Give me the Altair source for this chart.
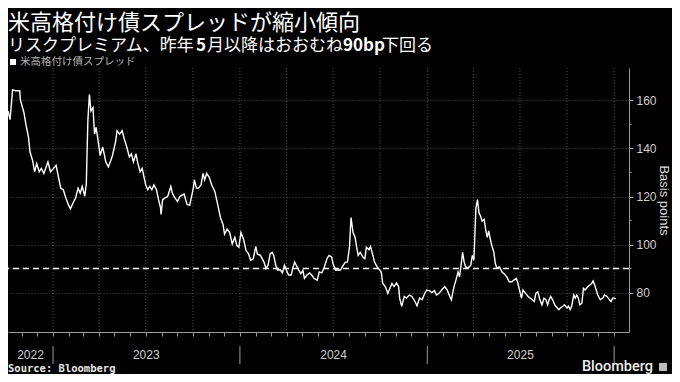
import altair as alt
import pandas as pd

# ---------------- data ----------------
START_DATE = "2022-10-05"
# day offsets from START_DATE of the sampled points
day_offsets = [0,4,9,15,23,24,31,35,40,43,48,52,56,61,65,70,78,83,89,94,
               99,103,108,113,118,122,127,132,137,141,145,150,153,156,159,162,166,169,172,175,
               180,185,189,191,196,201,204,210,213,218,223,227,232,237,241,245,250,253,258,262,
               269,273,277,281,285,290,294,298,299,302,307,312,318,321,326,331,336,344,347,350,
               355,362,364,368,372,377,381,384,388,393,398,404,411,415,420,423,428,433,438,443,
               447,451,455,460,465,470,474,479,484,487,493,500,504,508,512,516,519,523,527,532,
               536,540,544,548,553,557,560,563,568,572,576,579,584,589,593,598,604,608,613,618,
               623,627,632,635,640,644,649,655,659,663,667,670,674,678,681,684,688,693,697,700,
               705,708,712,716,721,724,729,732,737,742,746,750,754,759,763,765,769,774,778,784,
               789,795,799,804,809,814,818,823,828,833,837,842,847,853,858,863,866,869,872,875,
               879,882,885,888,891,894,898,901,904,907,910,914,917,920,923,926,930,933,936,939,
               942,945,949,952,955,960,965,969,974,979,984,988,993,996,999,1003,1006,1011,1016,1020,
               1024,1028,1031,1035,1039,1043,1047,1051,1054,1057,1060,1064,1068,1073,1076,1079,1084,1087,1092,1095,
               1098,1101,1105,1108,1111,1114,1117,1121,1124,1127,1130,1133,1136,1140,1143,1146,1149,1152,1157,1162,
               1165,1170,1175,1178,1181,1184,1187]
spread_bp = [155.6,152,164.5,164,164,160.4,155,150,144.7,138.5,
             135,130.3,133.7,130.3,131.7,129.6,134.4,130.3,131.7,133,
             127.6,123.5,122.8,119.4,116.6,114.9,117.3,119.4,123.5,121.4,
             124.2,120.1,125.5,151.5,162.5,155.6,157,146,148.8,144.7,
             137.1,140.6,136.5,134.4,132.4,135.1,137.1,142.6,147.4,146,
             147.4,144,140.6,136.5,137.8,134.4,137.8,134.4,130.3,131.7,
             124.8,122.8,124.2,122.8,124.8,122.8,118.7,115.3,112.5,118.7,
             119.4,120.1,124.2,121.4,119.4,118,120.1,121,118.7,116.6,
             116.4,123.5,126.9,123.5,123.5,124.8,129.6,126.9,129.6,128,
             124.8,122.1,115.3,111.2,108.4,104.3,106.4,105,100.2,103,
             99.6,98.9,105,102.3,97.5,96.1,93.4,94.1,99.2,96.1,
             95.5,92.7,90,91.4,96.1,96.8,95.5,91.4,89.3,89.5,
             88.2,91.4,89.3,87.3,87.3,90.7,92.7,91.4,89.3,87.9,
             89.3,85.9,87.3,88.2,87.3,85.9,85.2,88.6,88.2,90.7,
             94.1,95.5,94.8,92,89.3,89.5,89.3,91.4,92.7,92.7,
             98.9,111.2,105,103,98.9,95.5,96.8,94.8,94.1,98.9,
             97.8,99.2,96.1,92.7,90.7,90,88.6,83.8,82.5,79.7,
             81.8,83.8,82.5,84.1,82.5,77.7,74.3,78.4,77.7,79,
             78.4,76.3,74.5,77.7,77,79.7,81.1,80.8,80,80.8,
             79,79.7,81.1,82.5,81,78.4,77,80.3,83.1,85.2,
             88.6,86.6,91.4,96.8,92.7,90.7,90.3,90.7,91.4,95.5,
             93.5,115.3,118.7,113.2,111.9,109.8,110.5,106.4,103,105.7,
             102.3,99.6,96.8,92,90.2,90.7,88.6,87.9,86.6,84.5,
             84.5,85.2,85.9,83.8,81.1,77.7,81.1,79.7,78.4,77.7,
             77,76.3,79.7,80.3,77,74.9,77.7,77,74.9,77,
             78.4,77,74.9,73.6,72.9,73.6,74.3,74.9,73.6,74.3,
             72.9,74.3,79,77.7,79,77.7,74.9,75.6,81.8,81.1,
             81.8,82.5,83.1,83.8,84.9,83.1,81.1,79,77,77.7,
             79,78.4,77,76.3,77.7,77.7,77.4]

threshold_bp = [90]
y_major = [80, 100, 120, 140, 160]
y_minor = [90, 110, 130, 150]
quarter_starts = ["2023-01-01", "2023-04-01", "2023-07-01", "2023-10-01",
                  "2024-01-01", "2024-04-01", "2024-07-01", "2024-10-01",
                  "2025-01-01", "2025-04-01", "2025-07-01", "2025-10-01",
                  "2026-01-01"]
year_starts = ["2023-01-01", "2024-01-01", "2025-01-01", "2026-01-01"]
year_labels = ["2022", "2023", "2024", "2025"]
year_label_dates = ["2022-11-18", "2023-07-02", "2024-07-02", "2025-07-02"]

title_text = "米高格付け債スプレッドが縮小傾向"
subtitle_parts = ["リスクプレミアム、昨年", "5", "月以降はおおむね", "90bp", "下回る"]
subtitle_bold = [False, True, False, True, False]
legend_label = "米高格付け債スプレッド"
source_text = "Source: Bloomberg"
brand_text = "Bloomberg"
y_title = "Basis points"

# ---------------- layout / style ----------------
W, H = 621, 264
JP = "Noto Sans CJK JP"
SANS = "Liberation Sans"
GRID = "#4f4f4f"
AXIS = "#9a9a9a"
subtitle_x = [0, 188, 199, 335, 374]

dates = pd.to_datetime(START_DATE) + pd.to_timedelta(day_offsets, unit="D")
df = pd.DataFrame({"date": dates, "spread": spread_bp})

x_scale = alt.Scale(domain=[alt.DateTime(year=2022, month=10, date=5),
                            alt.DateTime(year=2026, month=1, date=30)])
y_scale = alt.Scale(domain=[63.6, 173.5], nice=False, zero=False)


def text_layer(text, x, y, size, color="#ffffff", weight="normal", font=JP,
               align="left", baseline="alphabetic"):
    return alt.Chart(pd.DataFrame({"t": [text]})).mark_text(
        align=align, baseline=baseline, fontSize=size, font=font,
        fontWeight=weight, color=color
    ).encode(x=alt.value(x), y=alt.value(y), text="t:N")


qgrid = alt.Chart(pd.DataFrame({"date": pd.to_datetime(quarter_starts)})).mark_rule(
    color=GRID, strokeDash=[1, 2], strokeWidth=1
).encode(x=alt.X("date:T", scale=x_scale))

line = alt.Chart(df).mark_line(color="#ffffff", strokeWidth=1.4).encode(
    x=alt.X("date:T", scale=x_scale,
            axis=alt.Axis(title=None, labels=False, grid=False,
                          tickCount=alt.TimeIntervalStep(interval="month", step=1),
                          tickSize=4, tickColor=AXIS, domainColor=AXIS)),
    y=alt.Y("spread:Q", scale=y_scale,
            axis=alt.Axis(orient="right", values=y_major, title=y_title,
                          titleFont=SANS, titleFontSize=13, titleFontWeight="normal",
                          titleColor="#dddddd", titleAngle=90, titlePadding=0,
                          labelFont=SANS, labelFontSize=12, labelColor="#cfcfcf",
                          labelPadding=3, tickSize=4, tickColor=AXIS,
                          domainColor=AXIS, grid=True, gridColor=GRID,
                          gridDash=[1, 2])),
)

thresh = alt.Chart(pd.DataFrame({"spread": threshold_bp})).mark_rule(
    color="#ffffff", strokeDash=[6, 4], strokeWidth=1.5
).encode(y=alt.Y("spread:Q", scale=y_scale))

minor = alt.Chart(pd.DataFrame({"spread": y_minor})).mark_rule(
    color=AXIS, strokeWidth=1
).encode(y=alt.Y("spread:Q", scale=y_scale), x=alt.value(W), x2=alt.value(W + 2.5))

year_sep = alt.Chart(pd.DataFrame({"date": pd.to_datetime(year_starts)})).mark_rule(
    color=AXIS, strokeWidth=1
).encode(x=alt.X("date:T", scale=x_scale),
         y=alt.value(H + 14), y2=alt.value(H + 32))

year_text = alt.Chart(pd.DataFrame({"date": pd.to_datetime(year_label_dates),
                                    "lab": year_labels})).mark_text(
    font=SANS, fontSize=12, color="#cfcfcf", baseline="middle", align="center"
).encode(x=alt.X("date:T", scale=x_scale), y=alt.value(H + 23), text="lab:N")

layers = [qgrid, line, thresh, minor, year_sep, year_text]

# header
layers.append(text_layer(title_text, 0, -38, 22))
for part, bold, px in zip(subtitle_parts, subtitle_bold, subtitle_x):
    layers.append(text_layer(part, px, -17, 17, weight="bold" if bold else "normal"))

legend_sq = alt.Chart(pd.DataFrame({"t": [legend_label]})).mark_square(
    color="#ffffff", size=36, opacity=1
).encode(x=alt.value(5), y=alt.value(-6))
layers.append(legend_sq)
layers.append(text_layer(legend_label, 12, -6, 10.5, color="#b4b4b4", baseline="middle"))

# footer
layers.append(text_layer(source_text, 0, H + 37, 10.5, color="#e6e6e6", weight="bold",
                         font="DejaVu Sans Mono", baseline="middle"))
layers.append(text_layer(brand_text, 645, H + 35, 14.5, color="#eeeeee", weight=500,
                         font="Roboto", align="right", baseline="middle"))
brand_icon = alt.Chart(pd.DataFrame({"t": [brand_text]})).mark_square(
    color="#bdbdbd", size=64, opacity=1
).encode(x=alt.value(655), y=alt.value(H + 35))
layers.append(brand_icon)

chart = alt.layer(*layers).properties(
    width=W, height=H,
    autosize=alt.AutoSizeParams(type="none"),
    padding={"left": 0, "top": 60, "right": 43, "bottom": 42},
).configure(background="#000000").configure_view(stroke=None)

chart.save("out.html", embed_options={"renderer": "svg", "actions": False})
